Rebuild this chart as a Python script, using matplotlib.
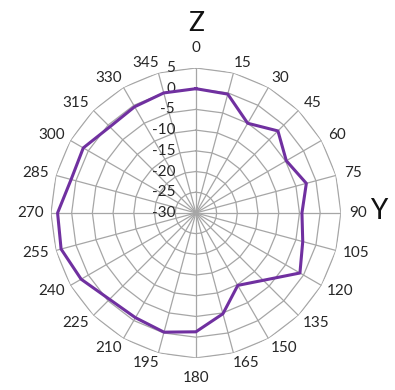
import numpy as np
import matplotlib.pyplot as plt

plt.rcParams['font.family'] = ['Lato', 'DejaVu Sans']

# angles (degrees) and measured values
angles_deg = [0, 15, 30, 45, 60, 75, 90, 105, 120, 135, 150, 165,
              180, 195, 210, 225, 240, 255, 270, 285, 300, 315, 330, 345]
values = [0, -0.3, -5, -2, -4.8, -2.4, -4.4, -3.3, -1, -7, -9.8, -4.8,
          -1.3, -0.2, -0.8, -0.5, 2, 3.7, 3.4, 1.2, 1.4, -0.6, -0.4, 0]
ring_levels = [-30, -25, -20, -15, -10, -5, 0, 5]

r_min, r_max = -30, 5
grid_col = '#a6a6a6'
line_col = '#7030a0'
text_col = '#262626'

theta = np.deg2rad(angles_deg)
theta_closed = np.append(theta, theta[0])

fig = plt.figure(figsize=(3.95, 3.90), dpi=100)
ax = fig.add_axes([0.129, 0.082, 0.734, 0.744], projection='polar')
ax.set_theta_zero_location('N')
ax.set_theta_direction(-1)
ax.set_ylim(r_min, r_max)
ax.grid(False)
ax.spines['polar'].set_visible(False)
ax.set_xticks([])
ax.set_yticks([])

# polygon rings and spokes
for lvl in ring_levels[1:]:
    ax.plot(theta_closed, [lvl] * len(theta_closed), color=grid_col, lw=0.9, zorder=1)
for t in theta:
    ax.plot([t, t], [r_min, r_max], color=grid_col, lw=0.9, zorder=1)

# data
vals_closed = np.append(values, values[0])
ax.plot(theta_closed, vals_closed, color=line_col, lw=2.2, zorder=3)

# radial value labels along the 0 spoke
for lvl in ring_levels:
    ax.annotate(str(lvl), xy=(0, lvl), xytext=(-15, 0), textcoords='offset points',
                ha='right', va='center', fontsize=11, color=text_col, zorder=2)

# angle labels just outside the outer ring (offsets in points from the outer vertex)
for a, t in zip(angles_deg, theta):
    s, c = np.sin(t), np.cos(t)
    half_w = 2.4 * len(str(a))
    dx = s * 7.5 + np.sign(round(s, 3)) * half_w
    dy = c * 7.5 + (7 if abs(s) < 0.1 else 0) * np.sign(c)
    ax.annotate(str(a), xy=(t, r_max), xytext=(dx, dy), textcoords='offset points',
                ha='center', va='center', fontsize=11, color=text_col,
                annotation_clip=False)

fig.text(0.496, 0.94, 'Z', ha='center', va='center', fontsize=19, color='#111111')
fig.text(0.96, 0.458, 'Y', ha='center', va='center', fontsize=20, color='#111111')

fig.savefig('out.png', dpi=100)
